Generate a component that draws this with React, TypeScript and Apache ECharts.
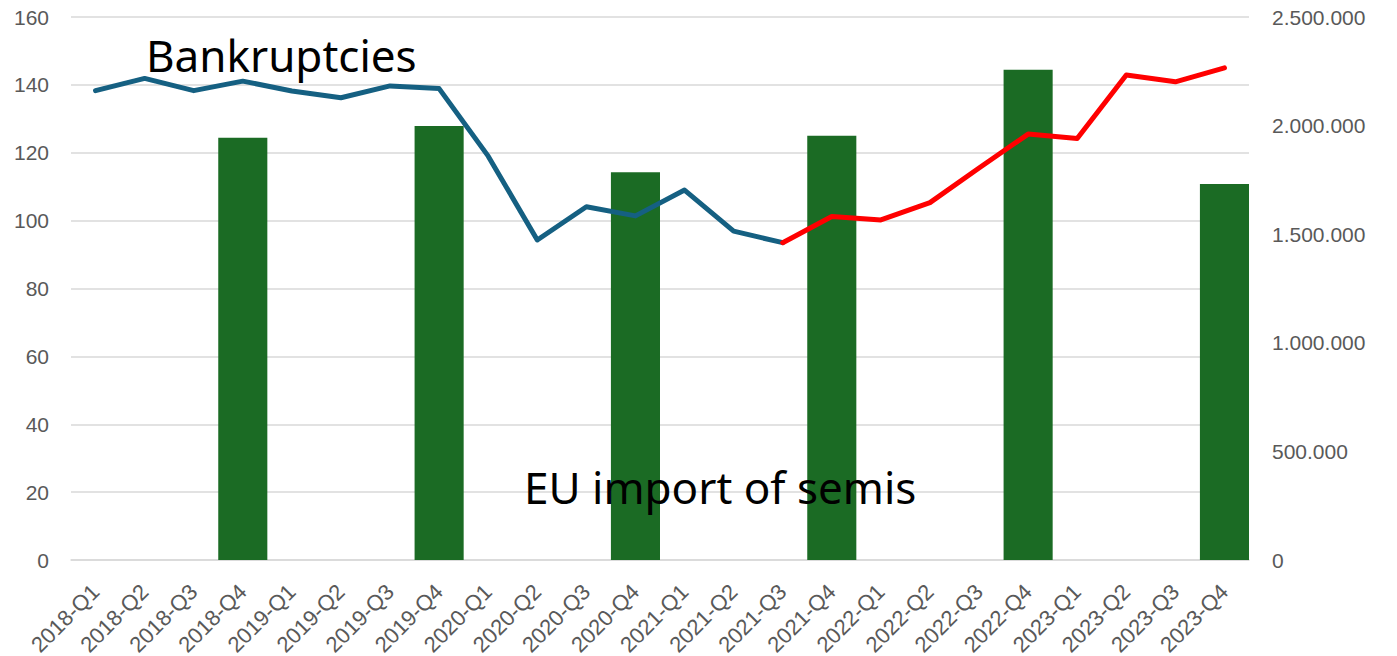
import React, { useEffect, useRef } from "react";
import * as echarts from "echarts";

const quarters = [
  "2018-Q1", "2018-Q2", "2018-Q3", "2018-Q4",
  "2019-Q1", "2019-Q2", "2019-Q3", "2019-Q4",
  "2020-Q1", "2020-Q2", "2020-Q3", "2020-Q4",
  "2021-Q1", "2021-Q2", "2021-Q3", "2021-Q4",
  "2022-Q1", "2022-Q2", "2022-Q3", "2022-Q4",
  "2023-Q1", "2023-Q2", "2023-Q3", "2023-Q4",
];

// Bankruptcies index, historic part (through 2021-Q3)
const bankruptciesHistoric: (number | null)[] = [
  138.3, 141.9, 138.3, 141.1, 138.2, 136.2, 139.7, 138.9,
  119.0, 94.3, 104.1, 101.4, 109.0, 96.9, 93.5,
  null, null, null, null, null, null, null, null, null,
];

// Bankruptcies index, recent part (from 2021-Q3)
const bankruptciesRecent: (number | null)[] = [
  null, null, null, null, null, null, null, null,
  null, null, null, null, null, null, 93.5,
  101.2, 100.2, 105.3, 115.5, 125.5, 124.2, 142.9, 140.9, 145.0,
];

// EU import of semis, yearly (shown at Q4)
const euImportSemis: (number | null)[] = [
  null, null, null, 1944000,
  null, null, null, 1998000,
  null, null, null, 1785000,
  null, null, null, 1953000,
  null, null, null, 2257000,
  null, null, null, 1731000,
];

const leftTicks = { min: 0, max: 160, interval: 20 };
const rightTicks = { min: 0, max: 2500000, interval: 500000 };

const FONT = "'Liberation Sans', Arial, sans-serif";
const TITLE_FONT = "'Noto Sans', 'Liberation Sans', sans-serif";
const LABEL_COLOR = "#595959";
const GRID_COLOR = "#d9d9d9";

function dotted(v: number): string {
  return String(Math.round(v)).replace(/\B(?=(\d{3})+(?!\d))/g, ".");
}

export default function App() {
  const ref = useRef<HTMLDivElement>(null);

  useEffect(() => {
    if (!ref.current) return;
    const chart = echarts.init(ref.current, undefined, { renderer: "svg" });
    chart.setOption({
      animation: false,
      backgroundColor: "#ffffff",
      grid: {
        left: 71,
        right: 148,
        top: 17,
        bottom: 96,
        containLabel: false,
        outerBoundsMode: "none",
      },
      xAxis: {
        type: "category",
        data: quarters,
        boundaryGap: true,
        axisLine: { show: true, lineStyle: { color: GRID_COLOR, width: 1.5 } },
        axisTick: { show: false },
        axisLabel: {
          rotate: 45,
          color: LABEL_COLOR,
          fontSize: 22,
          fontFamily: FONT,
          margin: 28,
          interval: 0,
        },
      },
      yAxis: [
        {
          type: "value",
          position: "left",
          ...leftTicks,
          axisLine: { show: false },
          axisTick: { show: false },
          splitLine: { show: true, lineStyle: { color: GRID_COLOR, width: 1.5 } },
          axisLabel: { color: LABEL_COLOR, fontSize: 21, fontFamily: FONT, margin: 22 },
        },
        {
          type: "value",
          position: "right",
          ...rightTicks,
          axisLine: { show: false },
          axisTick: { show: false },
          splitLine: { show: false },
          axisLabel: {
            color: LABEL_COLOR,
            fontSize: 21,
            fontFamily: FONT,
            margin: 23,
            formatter: (v: number) => dotted(v),
          },
        },
      ],
      series: [
        {
          name: "EU import of semis",
          type: "bar",
          yAxisIndex: 1,
          data: euImportSemis,
          barWidth: "100%",
          itemStyle: { color: "#1b6b24" },
        },
        {
          name: "Bankruptcies",
          type: "line",
          yAxisIndex: 0,
          data: bankruptciesHistoric,
          showSymbol: false,
          connectNulls: false,
          lineStyle: { color: "#156082", width: 5, join: "round", cap: "round" },
          itemStyle: { color: "#156082" },
          z: 3,
        },
        {
          name: "Bankruptcies (recent)",
          type: "line",
          yAxisIndex: 0,
          data: bankruptciesRecent,
          showSymbol: false,
          connectNulls: false,
          lineStyle: { color: "#ff0000", width: 5, join: "round", cap: "round" },
          itemStyle: { color: "#ff0000" },
          z: 4,
        },
      ],
      graphic: [
        {
          type: "text",
          left: 146,
          top: 33,
          style: { text: "Bankruptcies", fontSize: 44, fontFamily: TITLE_FONT, fill: "#000000" },
          z: 10,
        },
        {
          type: "text",
          left: 524,
          top: 465,
          style: { text: "EU import of semis", fontSize: 44, fontFamily: TITLE_FONT, fill: "#000000" },
          z: 10,
        },
      ],
    });
    return () => chart.dispose();
  }, []);

  return (
    <div
      ref={ref}
      style={{ position: "absolute", left: 0, top: 0, width: 1397, height: 656 }}
    />
  );
}
